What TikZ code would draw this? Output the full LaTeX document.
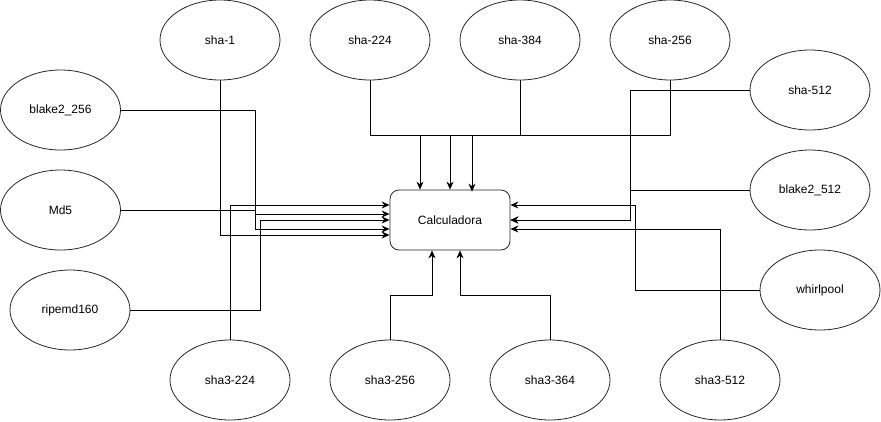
\documentclass[tikz,border=0pt]{standalone}
\usepackage{fontspec}
\setmainfont{Liberation Sans}
\usetikzlibrary{shapes.geometric,arrows.meta}
\begin{document}
\begin{tikzpicture}[x=1pt,y=-1pt,
  hashnode/.style={ellipse,draw=black!85,line width=0.8pt,minimum width=120pt,minimum height=80pt,inner sep=0pt,font=\fontsize{12}{14}\selectfont},
  calcbox/.style={rectangle,rounded corners=9pt,draw=black!85,line width=0.8pt,minimum width=120pt,minimum height=60pt,inner sep=0pt,font=\fontsize{12}{14}\selectfont},
  arr/.style={draw=black,line width=0.9pt,-{Stealth[length=8pt,width=7pt]}}]
\useasboundingbox (0,0) rectangle (881,421);
\node[calcbox] (calc) at (450,220) {Calculadora};
\node[hashnode] (sha1) at (220,40) {sha-1};
\node[hashnode] (s224) at (370,40) {sha-224};
\node[hashnode] (s384) at (520,40) {sha-384};
\node[hashnode] (s256) at (670,40) {sha-256};
\node[hashnode] (s512) at (810,90) {sha-512};
\node[hashnode] (b256) at (60.5,110) {blake2\_256};
\node[hashnode] (md5) at (60.5,210) {Md5};
\node[hashnode] (rip) at (70,310) {ripemd160};
\node[hashnode] (b512) at (810,190) {blake2\_512};
\node[hashnode] (whirl) at (820,290) {whirlpool};
\node[hashnode] (s3224) at (230,380) {sha3-224};
\node[hashnode] (s3256) at (390,380) {sha3-256};
\node[hashnode] (s3364) at (550,380) {sha3-364};
\node[hashnode] (s3512) at (720,380) {sha3-512};
% left
\draw[arr] (sha1.south) |- ([yshift=-15pt]calc.west);
\draw[arr] (b256.east) -- (255,110) |- ([yshift=-9pt]calc.west);
\draw[arr] (md5.east) -- (255,210) -- (255,214) -- ([yshift=6pt]calc.west);
\draw[arr] (rip.east) -- (260,310) |- (calc.west);
\draw[arr] (s3224.north) |- ([yshift=15pt]calc.west);
% top
\draw[arr] (s224.south) -- (370,135) -| (calc.north);
\draw[arr] (s384.south) -- (520,135) -| ([xshift=-30pt]calc.north);
\draw[arr,shorten >=-2pt] (s256.south) -- (670,135) -| ([xshift=22pt]calc.north);
% right
\draw[arr] (s512.west) -- (630,90) |- (calc.east);
\draw[arr] (b512.west) -- (630,190) |- (calc.east);
\draw[arr] (whirl.west) -- (635,290) |- ([yshift=15pt]calc.east);
\draw[arr] (s3512.north) |- ([yshift=-9pt]calc.east);
% bottom
\draw[arr] (s3256.north) -- (390,295) -| ([xshift=-18pt]calc.south);
\draw[arr] (s3364.north) -- (550,295) -| ([xshift=10pt]calc.south);
\end{tikzpicture}
\end{document}
